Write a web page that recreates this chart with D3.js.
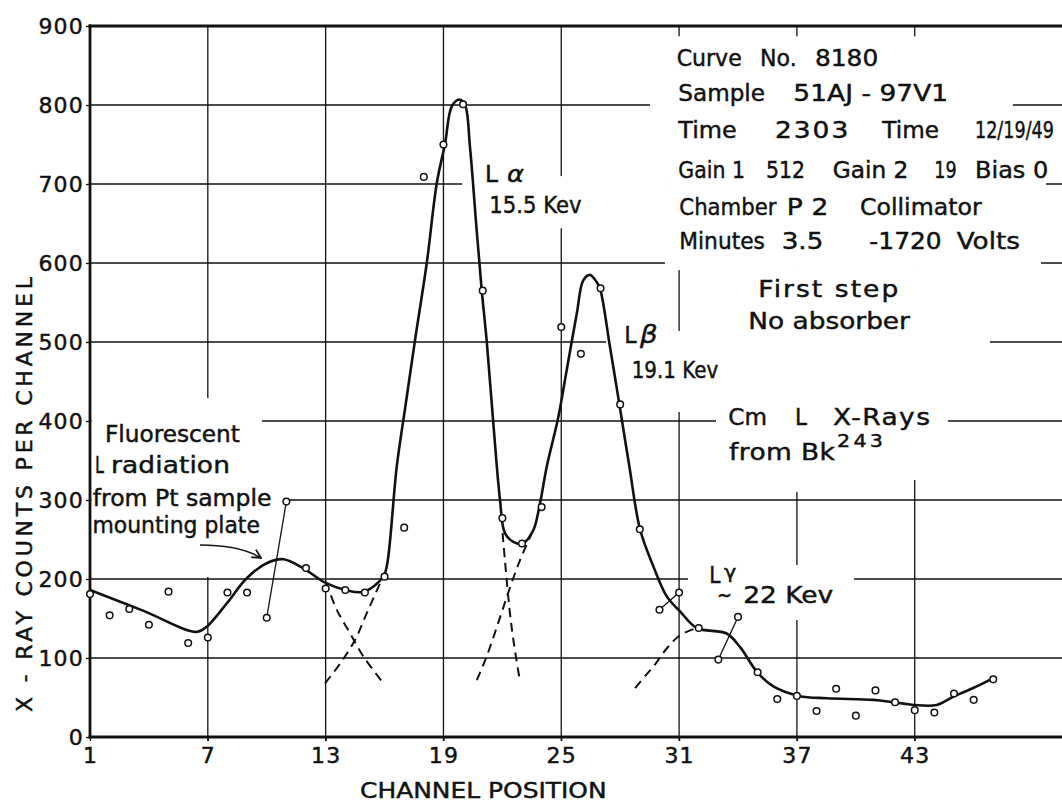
<!DOCTYPE html>
<html><head><meta charset="utf-8">
<script src="https://cdn.jsdelivr.net/npm/d3@7/dist/d3.min.js"></script>
<style>
body{margin:0;background:#fff;}
svg text{font-family:"DejaVu Sans",sans-serif;fill:#111;stroke:#111;stroke-width:0.45px;}
</style></head><body>
<svg id="c" width="1062" height="804"></svg>
<script>
// ---------- data ----------
const xTicks = [1, 7, 13, 19, 25, 31, 37, 43];
const yTicks = [0, 100, 200, 300, 400, 500, 600, 700, 800, 900];
const channels = [1,2,3,4,5,6,7,8,9,10,11,12,13,14,15,16,17,18,19,20,21,22,23,24,25,26,27,28,29,30,31,32,33,34,35,36,37,38,39,40,41,42,43,44,45,46,47];
const counts   = [181,154,162,142,184,119,126,183,183,151,298,214,188,186,183,203,265,709,750,801,565,277,245,291,519,485,568,421,263,161,183,138,98,152,82,48,52,33,61,27,59,44,34,31,55,47,73];
// smooth fitted curve (channel, counts)
const fitCurve = [[1,186],[3.7,160],[6.43,133],[6.96,140],[7.96,169],[8.98,201],[10.0,220],[10.85,225],[11.87,213.5],[13.0,195],[14.02,186],[14.95,184],[15.94,203],[16.14,220],[16.62,342],[17.07,420],[17.55,502],[18.15,600],[18.66,701],[19.08,751],[19.42,798],[19.81,807],[20.10,800],[20.35,747],[20.69,642],[20.95,565],[21.20,502],[21.54,397],[21.88,300],[22.13,258],[22.56,247],[23.04,245],[23.58,262],[23.88,291],[24.26,342],[24.85,405],[25.28,465],[25.79,536],[26.12,578],[26.46,585],[26.80,576],[26.97,568],[27.48,494],[27.96,421],[28.47,342],[29.01,263],[29.69,216],[30.37,178],[31.05,159],[31.90,138],[33.42,131],[34.10,114],[34.98,82],[35.80,64],[37.11,52],[38.52,49],[40.89,47],[41.91,44],[42.98,40.5],[44.12,40.5],[44.96,51],[45.98,62],[46.88,73]];
// dashed component tails
const tailFluorFall = [[13.0,197],[13.57,161],[14.25,131],[14.92,102],[15.94,68]];
const tailAlphaRise = [[12.97,68],[13.74,93],[14.5,123],[15.1,157],[15.69,190],[15.94,203]];
const tailAlphaFall = [[22.01,258],[22.13,224],[22.35,165],[22.56,123],[22.86,76]];
const tailBetaRise  = [[20.70,72],[21.20,102],[21.89,152],[22.40,190],[22.90,224],[23.50,258]];
const tailGammaRise = [[28.76,62],[29.3,78],[29.69,89],[30.37,112],[31.06,129],[31.9,138]];
const connectorPairs = [[10,11],[30,31],[33,34]];
const infoLines = [
  ["Curve", "No.", "8180"],
  ["Sample", "51AJ - 97V1"],
  ["Time", "2303", "Time", "12/19/49"],
  ["Gain 1", "512", "Gain 2", "19", "Bias 0"],
  ["Chamber", "P2", "Collimator"],
  ["Minutes", "3.5", "-1720", "Volts"]
];

// ---------- layout ----------
const svg = d3.select('#c');
const x = d3.scaleLinear().domain([1, 50.5]).range([90, 1062]);
const y = d3.scaleLinear().domain([0, 900]).range([737, 26]);
const INK = '#111';

// grid
const grid = svg.append('g').attr('stroke', INK).attr('stroke-width', 1.3);
grid.selectAll('line.v').data(xTicks.slice(1)).join('line')
  .attr('x1', d => x(d)).attr('x2', d => x(d)).attr('y1', y(900)).attr('y2', y(0) + 4);
grid.selectAll('line.h').data(yTicks.slice(1, -1)).join('line')
  .attr('x1', x(1)).attr('x2', x.range()[1]).attr('y1', d => y(d)).attr('y2', d => y(d));

// white-out areas behind the hand lettering (data units: c0,c1,v0,v1)
const masks = [
  [1.08, 9.76, 429, 202.5], [9.76, 10.88, 388.6, 202.5],
  [19.95, 30.28, 710, 644],
  [29.52, 48.0, 887, 755.7], [30.28, 49.69, 791, 606.3], [30.28, 49.43, 616.5, 591],
  [31.30, 46.83, 591, 509], [27.28, 46.83, 514, 411.4],
  [32.88, 44.69, 414, 325.3], [36.1, 37.9, 326, 310],
  [31.45, 39.91, 217.7, 148.1]
];
svg.append('g').selectAll('rect').data(masks).join('rect')
  .attr('x', d => x(d[0])).attr('width', d => x(d[1]) - x(d[0]))
  .attr('y', d => y(d[2])).attr('height', d => y(d[3]) - y(d[2]))
  .attr('fill', '#fff');

// axes
const yAxis = d3.axisLeft(y).tickValues(yTicks).tickSize(4).tickPadding(2);
const xAxis = d3.axisBottom(x).tickValues(xTicks).tickSize(4).tickPadding(6);
const gy = svg.append('g').attr('transform', `translate(${x(1)},0)`).call(yAxis);
const gx = svg.append('g').attr('transform', `translate(0,${y(0)})`).call(xAxis);
[gx, gy].forEach(g => {
  g.select('.domain').remove();
  g.selectAll('.tick line').attr('stroke', INK).attr('stroke-width', 1.3);
  g.selectAll('.tick text').attr('font-size', 22).attr('letter-spacing', 1.2)
    .attr('font-family', '"DejaVu Sans", sans-serif').attr('fill', INK);
});
gy.selectAll('.tick text').attr('dy', '0.36em');
const frame = svg.append('g').attr('stroke', INK).attr('stroke-width', 2.8).attr('stroke-linecap', 'square');
frame.append('line').attr('x1', x(1)).attr('x2', x(1)).attr('y1', y(900)).attr('y2', y(0));
frame.append('line').attr('x1', x(1)).attr('x2', x.range()[1]).attr('y1', y(0)).attr('y2', y(0));
frame.append('line').attr('x1', x(1)).attr('x2', x.range()[1]).attr('y1', y(900)).attr('y2', y(900));

// curves
const line = d3.line().x(d => x(d[0])).y(d => y(d[1])).curve(d3.curveCatmullRom.alpha(0.5));
svg.append('g').selectAll('path')
  .data([tailFluorFall, tailAlphaRise, tailAlphaFall, tailBetaRise, tailGammaRise]).join('path')
  .attr('d', line).attr('fill', 'none').attr('stroke', INK).attr('stroke-width', 2)
  .attr('stroke-dasharray', '9,6');
svg.append('path').datum(fitCurve).attr('d', line).attr('fill', 'none')
  .attr('stroke', INK).attr('stroke-width', 2.6).attr('stroke-linejoin', 'round');

// connectors between displaced points
const val = c => counts[channels.indexOf(c)];
svg.append('g').selectAll('line').data(connectorPairs).join('line')
  .attr('x1', d => x(d[0])).attr('y1', d => y(val(d[0])))
  .attr('x2', d => x(d[1])).attr('y2', d => y(val(d[1])))
  .attr('stroke', INK).attr('stroke-width', 1.3);

// points
svg.append('g').selectAll('circle').data(channels).join('circle')
  .attr('cx', d => x(d)).attr('cy', (d, i) => y(counts[i])).attr('r', 3.3)
  .attr('fill', '#fff').attr('stroke', INK).attr('stroke-width', 1.5);

// ---------- text ----------
// fit a lettering segment between x0 and x1: mild horizontal scaling, rest as letter spacing
function seg(t, x0, x1, yb, size, extra) {
  const el = svg.append('text').attr('x', 0).attr('y', 0).attr('font-size', size || 23).text(t);
  if (extra) extra(el);
  const natural = el.node().getComputedTextLength();
  const target = x1 - x0;
  const s = Math.max(0.6, Math.min(1.15, target / natural));
  const n = t.length;
  const ls = n > 1 ? Math.max(0, (target - natural * s) / s / (n - 1)) : 0;
  el.attr('letter-spacing', ls).attr('transform', `translate(${x0},${yb}) scale(${s},1)`);
  return el;
}
// info block
const infoX = [
  [[676.7, 741.7], [760, 796.7], [815, 878.3]],
  [[678.3, 765], [793.3, 948.3]],
  [[678.3, 736.7], [775, 848.3], [882.3, 939], [975, 1054]],
  [[678.3, 745], [766, 805], [832.7, 908.3], [934.3, 956.7], [975, 1048.3]],
  [[679.3, 776.7], [786.7, 828.3], [860, 981.7]],
  [[679.3, 765], [781.7, 823.3], [869.3, 941.7], [956.7, 1020]]
];
const infoY = [65.7, 100.7, 137.7, 178.3, 215, 249.3];
infoLines.forEach((ln, i) => ln.forEach((t, j) => seg(t, infoX[i][j][0], infoX[i][j][1], infoY[i])));
seg('First step', 758.3, 898.3, 296.7);
seg('No absorber', 748.3, 910, 329);

// peak labels
seg('L', 485, 498, 181.7);
seg('α', 507, 524, 181.7, 23, e => e.attr('font-style', 'italic'));
seg('15.5 Kev', 489.3, 581.7, 213.3);
seg('L', 624.3, 636.7, 342.7);
seg('β', 640, 660, 342.7, 24, e => e.attr('font-style', 'italic'));
seg('19.1 Kev', 631.7, 718.3, 378.3);
seg('L', 709.3, 720.5, 582.7);
seg('γ', 724, 740, 578, 18);
seg('~', 717, 732, 603.3);
seg('22 Kev', 743.3, 833.3, 603.3);
seg('Cm', 728.3, 767, 425);
seg('L', 795, 807, 425);
seg('X-Rays', 833, 930, 425);
seg('from Bk', 729, 835, 460);
seg('243', 837, 883, 447.3, 18);

// fluorescence note
seg('Fluorescent', 105, 240, 441.7);
seg('L', 95, 104, 473.3);
seg('radiation', 111, 230, 473.3);
seg('from Pt sample', 92.7, 271.7, 506);
seg('mounting plate', 92.5, 260, 533.3);

// arrow
const defs = svg.append('defs');
defs.append('marker').attr('id', 'ah').attr('viewBox', '0 0 10 10').attr('refX', 9).attr('refY', 5)
  .attr('markerWidth', 11).attr('markerHeight', 11).attr('markerUnits', 'userSpaceOnUse').attr('orient', 'auto')
  .append('path').attr('d', 'M1,1 L9,5 L1,9').attr('fill', 'none').attr('stroke', INK).attr('stroke-width', 1.6);
const ap = d3.path();
ap.moveTo(x(6.6), y(243));
ap.quadraticCurveTo(x(8.64), y(243), x(9.71), y(226.6));
svg.append('path').attr('d', ap.toString()).attr('fill', 'none').attr('stroke', INK)
  .attr('stroke-width', 1.6).attr('marker-end', 'url(#ah)');

// axis titles
seg('CHANNEL POSITION', 360, 606.7, 798.3, 22);
svg.append('text').attr('transform', 'translate(31.7,494.5) rotate(-90)')
  .attr('text-anchor', 'middle').attr('font-size', 22)
  .attr('textLength', 435).attr('lengthAdjust', 'spacing')
  .text('X - RAY  COUNTS  PER  CHANNEL');
</script>
</body></html>
